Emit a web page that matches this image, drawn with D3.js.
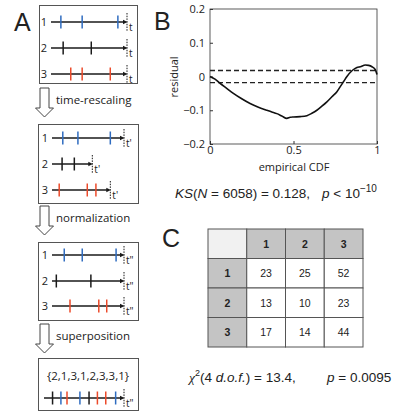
<!DOCTYPE html>
<html><head><meta charset="utf-8">
<script src="https://cdn.jsdelivr.net/npm/d3@7"></script>
<style>
body{margin:0;background:#fff;}
svg{display:block;}
text{font-family:"Open Sans",sans-serif;fill:#222;}
</style></head>
<body>
<svg id="c" width="394" height="414"></svg>
<script>
// ---------- data ----------
const trainLabels = ["1","2","3"];
// panel A: spike times per train (fraction of full line length)
const spikesOriginal   = [[0.13,0.41,0.88],[0.16,0.53],[0.26,0.41,0.78]];
const endOriginal      = [1,1,1];
const spikesRescaled   = [[0.15,0.36,0.81],[0.14,0.31],[0.10,0.49,0.61]];
const endRescaled      = [1,0.56,0.81];
const spikesNormalized = [[0.17,0.42,0.89],[0.06,0.54],[0.25,0.65,0.76]];
const endNormalized    = [1,1,1];
const endLabels = ["t","t'","t\""];
const stepLabels = ["time-rescaling","normalization","superposition"];
// panel B
const cdfX = [0,0.03,0.06,0.10,0.14,0.19,0.24,0.29,0.34,0.37,0.40,0.43,0.46,0.48,0.50,0.54,0.58,0.61,0.64,0.67,0.70,0.73,0.76,0.78,0.80,0.82,0.85,0.87,0.88,0.90,0.93,0.95,0.97,0.99,1.0];
const residual = [0,-0.008,-0.02,-0.035,-0.05,-0.066,-0.08,-0.091,-0.10,-0.105,-0.11,-0.117,-0.124,-0.121,-0.12,-0.119,-0.116,-0.109,-0.10,-0.088,-0.075,-0.06,-0.045,-0.03,-0.015,0.0,0.017,0.024,0.027,0.029,0.034,0.033,0.029,0.02,0.006];
const bandHalfWidth = 0.018;
const bYTicks = [-0.2,-0.1,0,0.1,0.2];
const bYTickLabels = ["\u22120.2","\u22120.1","0","0.1","0.2"];
const bXTicks = [0,0.5,1];
const bXTickLabels = ["0","0.5","1"];
// panel C
const tableHeaders = ["1","2","3"];
const tableValues = [[23,25,52],[13,10,23],[17,14,44]];

// ---------- styles ----------
const trainColors = ["#2f6cc0","#1a1a1a","#ec4a2a"];
const svg = d3.select("#c");

// ---------- panel A ----------
svg.append("text").attr("x",14).attr("y",31).style("font-family","'Liberation Sans',Arial,sans-serif")
  .style("font-size","25px").text("A");

function drawTrains(box, rowsY, x0, unit, spikes, ends, endLabel){
  svg.append("rect").attr("x",box[0]+0.5).attr("y",box[1]+0.5).attr("width",box[2]-box[0]).attr("height",box[3]-box[1])
    .attr("fill","none").attr("stroke","#555").attr("stroke-width",1);
  spikes.forEach((sp,i)=>{
    const sx = d3.scaleLinear().domain([0,1]).range([x0,x0+unit]);
    const y = rowsY[i];
    const xe = sx(ends[i]);
    svg.append("text").attr("x",x0-7).attr("y",y+4).attr("text-anchor","middle").style("font-size","11px").text(trainLabels[i]);
    svg.append("line").attr("x1",x0).attr("x2",xe-2).attr("y1",y).attr("y2",y).attr("stroke","#1a1a1a").attr("stroke-width",1.4);
    svg.append("path").attr("d",`M${xe-4},${y-2.2}L${xe+0.5},${y}L${xe-4},${y+2.2}Z`).attr("fill","#1a1a1a");
    svg.append("line").attr("x1",xe).attr("x2",xe).attr("y1",y-9).attr("y2",y+9)
      .attr("stroke","#1a1a1a").attr("stroke-width",1).attr("stroke-dasharray","1.5,1.2");
    sp.forEach(s=>{
      svg.append("line").attr("x1",sx(s)).attr("x2",sx(s)).attr("y1",y-6.5).attr("y2",y+6.5)
        .attr("stroke",trainColors[i]).attr("stroke-width",1.5);
    });
    svg.append("text").attr("x",xe+2).attr("y",y+9).style("font-size","10px").text(endLabel);
  });
}
drawTrains([39,5,137,83],[22,48,74],51,76,spikesOriginal,endOriginal,endLabels[0]);
drawTrains([38,124,138,203],[138,164,190],52,72,spikesRescaled,endRescaled,endLabels[1]);
drawTrains([38,242,138,320],[255,281,306],52,72,spikesNormalized,endNormalized,endLabels[2]);

// arrows
function hollowArrow(top, label){
  const cx = 44.5;
  svg.append("path").attr("d",`M${cx-4.5},${top}L${cx+4.5},${top}L${cx+4.5},${top+20}L${cx+9},${top+20}L${cx},${top+29}L${cx-9},${top+20}L${cx-4.5},${top+20}Z`)
    .attr("fill","#fff").attr("stroke","#444").attr("stroke-width",1);
  svg.append("text").attr("x",56).attr("y",top+16).style("font-size","11.5px").text(label);
}
hollowArrow(88,stepLabels[0]);
hollowArrow(206,stepLabels[1]);
hollowArrow(324,stepLabels[2]);

// superposition box
(function(){
  const box=[38,358,138,410];
  svg.append("rect").attr("x",box[0]+0.5).attr("y",box[1]+0.5).attr("width",box[2]-box[0]).attr("height",box[3]-box[1])
    .attr("fill","none").attr("stroke","#555");
  const all=[];
  spikesNormalized.forEach((sp,i)=>sp.forEach(s=>all.push({t:s,i})));
  all.sort((a,b)=>a.t-b.t);
  const seq = "{"+all.map(d=>trainLabels[d.i]).join(",")+"}";
  svg.append("text").attr("x",88).attr("y",380).attr("text-anchor","middle").style("font-size","11.5px").text(seq);
  const sx = d3.scaleLinear().domain([0,1]).range([48,124]);
  const y=398, xe=sx(1);
  svg.append("line").attr("x1",44).attr("x2",xe-2).attr("y1",y).attr("y2",y).attr("stroke","#1a1a1a").attr("stroke-width",1.4);
  svg.append("path").attr("d",`M${xe-4},${y-2.2}L${xe+0.5},${y}L${xe-4},${y+2.2}Z`).attr("fill","#1a1a1a");
  svg.append("line").attr("x1",xe).attr("x2",xe).attr("y1",y-9).attr("y2",y+9).attr("stroke","#1a1a1a").attr("stroke-dasharray","1.5,1.2");
  all.forEach(d=>{
    svg.append("line").attr("x1",sx(d.t)).attr("x2",sx(d.t)).attr("y1",y-6.5).attr("y2",y+6.5)
      .attr("stroke",trainColors[d.i]).attr("stroke-width",1.5);
  });
  svg.append("text").attr("x",xe+2).attr("y",y+9).style("font-size","10px").text(endLabels[2]);
})();

// ---------- panel B ----------
svg.append("text").attr("x",154).attr("y",30).style("font-family","'Liberation Sans',Arial,sans-serif")
  .style("font-size","25px").text("B");
const bx = d3.scaleLinear().domain([0,1]).range([210,377]);
const by = d3.scaleLinear().domain([-0.2,0.2]).range([144,9]);
const gB = svg.append("g");
gB.append("rect").attr("x",bx(0)).attr("y",by(0.2)).attr("width",bx(1)-bx(0)).attr("height",by(-0.2)-by(0.2))
  .attr("fill","none").attr("stroke","#333").attr("stroke-width",0.8);
const yAx = gB.append("g").attr("transform",`translate(${bx(0)},0)`)
  .call(d3.axisLeft(by).tickValues(bYTicks).tickSize(-3).tickPadding(5).tickFormat((d,i)=>bYTickLabels[i]));
const xAx = gB.append("g").attr("transform",`translate(0,${by(-0.2)})`)
  .call(d3.axisBottom(bx).tickValues(bXTicks).tickSize(-3).tickPadding(2).tickFormat((d,i)=>bXTickLabels[i]));
[yAx,xAx].forEach(a=>{a.select(".domain").remove();a.selectAll("line").attr("stroke","#333");
  a.selectAll("text").style("font-family","'Open Sans',sans-serif").style("font-size","11px").attr("fill","#333");});
[bandHalfWidth,-bandHalfWidth].forEach(v=>{
  gB.append("line").attr("x1",bx(0)).attr("x2",bx(1)).attr("y1",by(v)).attr("y2",by(v))
    .attr("stroke","#222").attr("stroke-width",1.4).attr("stroke-dasharray","5,3");
});
gB.append("path").datum(cdfX.map((x,i)=>[x,residual[i]]))
  .attr("d",d3.line().x(d=>bx(d[0])).y(d=>by(d[1])).curve(d3.curveMonotoneX))
  .attr("fill","none").attr("stroke","#111").attr("stroke-width",1.6);
svg.append("text").attr("transform","translate(178,77) rotate(-90)").attr("text-anchor","middle")
  .style("font-size","11px").attr("fill","#333").text("residual");
svg.append("text").attr("x",294).attr("y",171).attr("text-anchor","middle").style("font-size","11px").attr("fill","#333").text("empirical CDF");
// KS statistic line
const ks = svg.append("text").attr("x",175).attr("y",198).style("font-family","'Liberation Sans',Arial,sans-serif").style("font-size","13.5px").attr("fill","#333");
ks.append("tspan").style("font-style","italic").text("KS");
ks.append("tspan").text("(");
ks.append("tspan").style("font-style","italic").text("N");
ks.append("tspan").text(" = 6058) = 0.128,");
ks.append("tspan").attr("x",322).style("font-style","italic").text("p");
ks.append("tspan").text("  <  10");
ks.append("tspan").attr("dy",-6).style("font-size","10px").text("\u221210");

// ---------- panel C ----------
svg.append("text").attr("x",162).attr("y",247).style("font-family","'Liberation Sans',Arial,sans-serif")
  .style("font-size","25px").text("C");
const cx = d3.scaleBand().domain(d3.range(4)).range([208,363]);
const cy = d3.scaleBand().domain(d3.range(4)).range([229,347]);
const gC = svg.append("g");
for(let r=0;r<4;r++){
  for(let c=0;c<4;c++){
    const header = r===0||c===0;
    const fill = (r===0&&c===0)?"#f1f1f1":header?"#c4c4c4":"#fff";
    gC.append("rect").attr("x",cx(c)).attr("y",cy(r)).attr("width",cx.bandwidth()).attr("height",cy.bandwidth())
      .attr("fill",fill).attr("stroke","#555").attr("stroke-width",1);
    let txt="";
    if(r===0&&c>0) txt=tableHeaders[c-1];
    else if(c===0&&r>0) txt=tableHeaders[r-1];
    else if(r>0&&c>0) txt=String(tableValues[r-1][c-1]);
    if(txt) gC.append("text").attr("x",cx(c)+cx.bandwidth()/2).attr("y",cy(r)+cy.bandwidth()/2+4)
      .attr("text-anchor","middle").style("font-family","'Liberation Sans',Arial,sans-serif")
      .style("font-size","10.5px").style("font-weight",header?"bold":"normal").attr("fill","#222").text(txt);
  }
}
const chi = svg.append("text").attr("x",189).attr("y",382).style("font-family","'Liberation Sans',Arial,sans-serif").style("font-size","13.5px").attr("fill","#333");
chi.append("tspan").style("font-family","'Liberation Serif',serif").style("font-style","italic").text("\u03c7");
chi.append("tspan").attr("dy",-6).style("font-size","9px").text("2");
chi.append("tspan").attr("dy",6).text("(4 ");
chi.append("tspan").style("font-style","italic").text("d.o.f.");
chi.append("tspan").text(") = 13.4,");
chi.append("tspan").attr("x",327).style("font-style","italic").text("p");
chi.append("tspan").text(" = 0.0095");
</script>
</body></html>
